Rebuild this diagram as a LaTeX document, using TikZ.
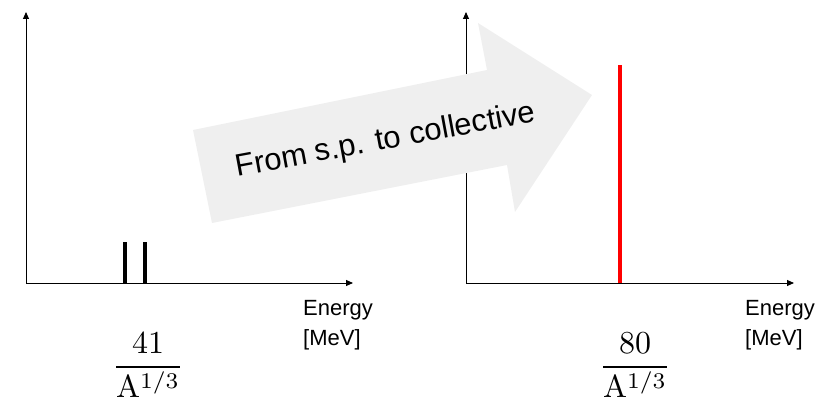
\documentclass[tikz,border=0pt]{standalone}
\usepackage{graphicx}
\usepackage{fontspec}
\newfontfamily\arialfont{Liberation Sans}
\usetikzlibrary{arrows.meta}
\definecolor{arrowgray}{RGB}{239,239,239}
\newcommand{\bigfrac}[2]{\scalebox{3.2}{$\displaystyle\frac{#1}{#2}$}}
\tikzset{
  axis/.style={line width=0.9pt, -{Triangle[length=7pt,width=6pt]}},
  level/.style={line width=4pt},
  unitlabel/.style={font=\arialfont\fontsize{22}{30}\selectfont, align=left, anchor=north west, inner sep=0pt},
  fraclabel/.style={inner sep=0pt},
  bigarrow/.style={fill=arrowgray, draw=none},
  arrowtext/.style={font=\arialfont\fontsize{31}{36}\selectfont, inner sep=0pt, anchor=base, rotate=10.5}
}
\begin{document}
\begin{tikzpicture}[x=1pt,y=-1pt]
\useasboundingbox (0,0) rectangle (825,401);
% left axes
\coordinate (lo) at (26,283);
\coordinate (ltop) at (26,12);
\coordinate (lright) at (353,283);
\draw[axis] (lo) -- (ltop);
\draw[axis] (lo) -- (lright);
\coordinate (b1a) at (125,283); \coordinate (b1b) at (125,242);
\coordinate (b2a) at (145,283); \coordinate (b2b) at (145,242);
\draw[level] (b1a) -- (b1b);
\draw[level] (b2a) -- (b2b);
\node[unitlabel] (el) at (303,300) {Energy\\{[MeV]}};
\node[fraclabel] (fl) at (148,365) {\bigfrac{41}{\mathrm{A}^{1/3}}};
% right axes
\coordinate (ro) at (466,283);
\coordinate (rtop) at (466,12);
\coordinate (rright) at (794,283);
\draw[axis] (ro) -- (rtop);
\draw[axis] (ro) -- (rright);
\coordinate (r1a) at (619.5,283); \coordinate (r1b) at (619.5,65);
\draw[level, red] (r1a) -- (r1b);
\node[unitlabel] (er) at (745,300) {Energy\\{[MeV]}};
\node[fraclabel] (fr) at (635,365) {\bigfrac{80}{\mathrm{A}^{1/3}}};
% big arrow
\draw[bigarrow] (212,223) -- (193,130) -- (487,70) -- (478,23) -- (592,95) -- (515,212) -- (507,165) -- cycle;
\node[arrowtext] (at) at (387,149) {From s.p. to collective};
\end{tikzpicture}
\end{document}
